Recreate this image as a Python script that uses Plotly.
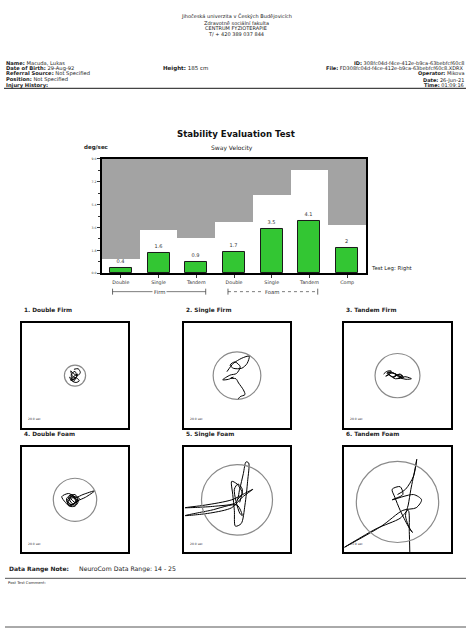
import plotly.graph_objects as go

# ---------------- data ----------------
categories = ["Double", "Single", "Tandem", "Double", "Single", "Tandem", "Comp"]
sway_velocity = [0.4, 1.6, 0.9, 1.7, 3.5, 4.1, 2]
bar_labels = ["0.4", "1.6", "0.9", "1.7", "3.5", "4.1", "2"]
normal_limit = [1.1, 3.4, 2.8, 4.0, 6.2, 8.1, 3.8]
y_ticks = [0, 1.8, 3.6, 5.4, 7.2, 9.0]
y_tick_labels = ["0.0", "1.8", "3.6", "5.4", "7.2", "9.0"]

panel_titles = ["1. Double Firm", "2. Single Firm", "3. Tandem Firm",
                "4. Double Foam", "5. Single Foam", "6. Tandem Foam"]
panel_times = ["20.0 sec", "20.0 sec", "20.0 sec", "20.0 sec", "20.0 sec", "13.9 sec"]
circle_radius = [0.20, 0.45, 0.42, 0.41, 0.67, 0.77]
circle_cy = [0.0, 0.0, 0.0, 0.0, 0.0, -0.04]

trace1_x = [-0.02, 0.06, 0.10, 0.05, -0.03, -0.08, -0.04, 0.04, 0.08, 0.02, -0.06, -0.10, -0.05, 0.03, 0.0, -0.07, -0.03, 0.05, -0.05, -0.08, 0.0]
trace1_y = [0.12, 0.13, 0.06, 0.0, 0.04, 0.09, -0.02, -0.05, -0.10, -0.13, -0.10, -0.03, -0.07, -0.02, 0.08, 0.02, -0.11, 0.03, -0.04, -0.09, -0.06]

trace2_x = [-0.19, -0.07, 0.09, 0.23, 0.19, 0.09, -0.07, -0.13, -0.04, 0.06, -0.01, -0.13, -0.27, -0.16, -0.07, -0.12, -0.02, 0.03, 0.12, 0.15, 0.06, 0.01]
trace2_y = [0.075, 0.23, 0.33, 0.37, 0.23, 0.14, 0.14, 0.20, 0.26, 0.17, 0.04, 0.01, -0.08, -0.07, -0.03, -0.05, -0.06, -0.14, -0.27, -0.36, -0.40, -0.46]

trace3_x = [-0.26, -0.20, -0.12, -0.16, -0.22, -0.10, -0.02, -0.08, 0.04, 0.10, 0.02, 0.14, 0.22, 0.26, 0.16, 0.06, -0.04, -0.14, -0.20, -0.12, 0.0, 0.08, -0.06, -0.18, -0.10, 0.04, 0.12, 0.0]
trace3_y = [0.03, 0.08, 0.09, 0.02, -0.01, 0.05, 0.02, -0.04, 0.03, -0.01, -0.05, -0.02, -0.04, -0.06, -0.07, -0.05, -0.06, 0.0, 0.05, 0.07, 0.0, -0.03, 0.04, 0.06, -0.02, 0.02, -0.04, -0.02]

trace4_x = [-0.10, 0.0, 0.05, -0.02, -0.12, -0.15, -0.05, 0.02, -0.08, -0.14, -0.04, 0.04, 0.0, -0.12, -0.06, 0.03, 0.15, 0.37, 0.20, 0.05, -0.10, -0.18, -0.25, -0.12, -0.02, 0.06, 0.0, -0.10, -0.16, -0.06, 0.02, -0.04, -0.12, 0.08, 0.02, -0.08]
trace4_y = [0.08, 0.10, 0.02, -0.08, -0.10, 0.0, 0.06, -0.04, -0.09, -0.03, 0.04, 0.0, -0.10, -0.06, 0.08, 0.05, 0.10, 0.17, 0.05, -0.02, -0.12, -0.05, 0.06, 0.12, 0.06, -0.03, -0.12, -0.12, 0.02, 0.10, -0.02, -0.08, 0.05, 0.03, -0.06, 0.02]

trace5_x = [0.0, 0.10, 0.0, -0.10, -0.08, -0.05, -0.03, 0.08, 0.15, 0.20, 0.22, 0.17, 0.12, 0.05, -0.02, -0.40, -0.98, -0.60, -0.10, 0.20, 0.30, 0.10, -0.10, -0.50, -0.98, -0.50, 0.0, 0.10, 0.05, -0.05, 0.02, 0.10, 0.05]
trace5_y = [0.0, 0.12, 0.30, 0.35, 0.10, -0.20, -0.50, -0.45, -0.10, 0.35, 0.70, 0.72, 0.50, 0.20, -0.05, -0.12, -0.15, -0.10, 0.0, 0.15, 0.20, 0.05, -0.15, -0.25, -0.30, -0.20, -0.10, -0.30, -0.25, 0.20, 0.30, 0.20, -0.05]

trace6_x = [0.0, 0.15, 0.30, 0.36, 0.33, 0.25, 0.20, 0.15, 0.23, 0.28, 0.20, 0.05, -0.05, -0.10, 0.05, 0.10, -0.10, 0.30, 0.45, 0.35, 0.10, -0.30, -0.99, -0.40, 0.05, 0.20, 0.22, 0.23]
trace6_y = [0.10, 0.20, 0.45, 0.77, 0.60, 0.20, -0.10, -0.30, -0.55, -0.62, -0.50, -0.20, 0.05, 0.20, 0.25, 0.10, 0.0, 0.10, 0.0, -0.15, -0.20, -0.50, -0.90, -0.55, -0.35, -0.20, -0.60, -0.99]

traces_x = [trace1_x, trace2_x, trace3_x, trace4_x, trace5_x, trace6_x]
traces_y = [trace1_y, trace2_y, trace3_y, trace4_y, trace5_y, trace6_y]

# ---------------- helpers ----------------
W, H = 468, 631
FONT = "DejaVu Sans"


def px(x):
    return x / W


def py(y):
    return 1 - y / H


fig = go.Figure()
xs = list(range(len(categories)))

# grey area above the normal limit
fig.add_trace(go.Bar(x=xs, y=[9 - v for v in normal_limit], base=normal_limit, width=1,
                     marker=dict(color="#a3a3a3", line=dict(width=0)), hoverinfo="skip",
                     showlegend=False))
# green bars
fig.add_trace(go.Bar(x=xs, y=sway_velocity, width=0.58, text=bar_labels,
                     textposition="outside", constraintext="none", cliponaxis=False,
                     textfont=dict(size=5, color="#333", family=FONT),
                     marker=dict(color="#33c633", line=dict(color="#1a1a1a", width=1)),
                     showlegend=False))

annotations = []
shapes = []


def note(x, y, text, size, anchor="left", color="#222", **kw):
    annotations.append(dict(x=px(x), y=py(y), xref="paper", yref="paper", text=text,
                            showarrow=False, xanchor=anchor, yanchor="middle",
                            font=dict(size=size, color=color), **kw))


layout = dict(
    width=W, height=H, autosize=False,
    margin=dict(l=0, r=0, t=0, b=0),
    paper_bgcolor="white", plot_bgcolor="white",
    barmode="overlay", bargap=0,
    font=dict(family=FONT, color="#222"),
    xaxis=dict(domain=[px(102), px(366)], range=[-0.5, 6.5], tickvals=xs, ticktext=categories,
               ticks="outside", ticklen=3, tickcolor="#333",
               tickfont=dict(size=4.8, color="#333"), showline=True, mirror=True,
               linecolor="black", linewidth=1.6, showgrid=False, zeroline=False, fixedrange=True),
    yaxis=dict(domain=[py(273), py(158)], range=[0, 9], tickvals=y_ticks, ticktext=y_tick_labels,
               ticks="outside", ticklen=3, tickcolor="#333", tickfont=dict(size=3.2, color="#444"),
               minor=dict(dtick=0.9, ticks="outside", ticklen=2, tickcolor="#333"),
               showline=True, mirror=True, linecolor="black", linewidth=1.6,
               showgrid=False, zeroline=False, fixedrange=True),
)

# sway panels
panel_x = [(22, 128), (184, 290), (344, 451)]
panel_y = [(323, 429), (448, 554)]
for i in range(6):
    r, c = divmod(i, 3)
    n = i + 2
    x0, x1 = panel_x[c]
    y0, y1 = panel_y[r]
    ax = dict(range=[-1, 1], showticklabels=False, ticks="", showgrid=False, zeroline=False,
              showline=True, mirror=True, linecolor="black", linewidth=2, fixedrange=True)
    layout[f"xaxis{n}"] = dict(ax, domain=[px(x0), px(x1)], anchor=f"y{n}")
    layout[f"yaxis{n}"] = dict(ax, domain=[py(y1), py(y0)], anchor=f"x{n}")
    fig.add_trace(go.Scatter(x=traces_x[i], y=traces_y[i], mode="lines",
                             line=dict(color="black", width=1, shape="spline", smoothing=0.8),
                             xaxis=f"x{n}", yaxis=f"y{n}", showlegend=False, hoverinfo="skip"))
    rad = circle_radius[i]
    shapes.append(dict(type="circle", xref=f"x{n}", yref=f"y{n}", x0=-rad, x1=rad,
                       y0=circle_cy[i] - rad, y1=circle_cy[i] + rad,
                       line=dict(color="#8a8a8a", width=1.2)))
    note(x0, y0 - 13, f"<b>{panel_titles[i]}</b>", 5.8)
    annotations.append(dict(x=-0.93, y=-0.83, xref=f"x{n}", yref=f"y{n}", text=panel_times[i],
                            showarrow=False, xanchor="left", yanchor="middle",
                            font=dict(size=3, color="#333")))

# header
header_lines = ["Jihočeská univerzita v Českých Budějovicích", "Zdravotně sociální fakulta",
                "CENTRUM FYZIOTERAPIE", "T/ + 420 389 037 844"]
for t, yy in zip(header_lines, [15, 20.7, 26.5, 32.3]):
    note(236, yy, t, 5, anchor="center")

left_lines = ["<b>Name:</b> Macuda, Lukas", "<b>Date of Birth:</b> 29-Aug-92",
              "<b>Referral Source:</b> Not Specified", "<b>Position:</b> Not Specified",
              "<b>Injury History:</b>"]
right_lines = ["<b>ID:</b> 308fc04d-f4ce-412e-b9ca-63bebfcf60c8",
               "<b>File:</b> FD308fc04d-f4ce-412e-b9ca-63bebfcf60c8.XDRX",
               "<b>Operator:</b> Mikova", "<b>Date:</b> 26-Jun-21", "<b>Time:</b> 01:09:16"]
line_ys = [61, 66.7, 72.3, 78, 83.7]
for t, yy in zip(left_lines, line_ys):
    note(4, yy, t, 5.2)
for t, yy in zip(right_lines, line_ys):
    note(466, yy, t, 5, anchor="right")
note(161, 66.7, "<b>Height:</b> 185 cm", 5.5)
shapes.append(dict(type="line", xref="paper", yref="paper", x0=px(4), x1=px(466),
                   y0=py(87), y1=py(87), line=dict(color="#444", width=1.2)))

# chart titles
note(236, 132.5, "<b>Stability Evaluation Test</b>", 8.6, anchor="center", color="#111")
note(82, 146.5, "<b>deg/sec</b>", 5.5)
note(232, 146.5, "Sway Velocity", 6, anchor="center")
note(369, 268, "Test Leg: Right", 5.4)

# Firm / Foam brackets
for (a, b, label, dash) in [(-0.22, 2.25, "Firm", "solid"), (2.84, 5.22, "Foam", "dot")]:
    yb = py(291.5)
    shapes.append(dict(type="line", xref="x", yref="paper", x0=a, x1=b, y0=yb, y1=yb,
                       line=dict(color="#444", width=0.7, dash=dash)))
    for e in (a, b):
        shapes.append(dict(type="line", xref="x", yref="paper", x0=e, x1=e,
                           y0=py(288.5), y1=py(294.5), line=dict(color="#444", width=0.8)))
    annotations.append(dict(x=(a + b) / 2, y=yb, xref="x", yref="paper", text=label,
                            showarrow=False, bgcolor="white", yanchor="middle",
                            font=dict(size=5.3, color="#333"), borderpad=1))

# bottom notes
note(7, 571, "<b>Data Range Note:</b>", 6)
note(77, 571, "NeuroCom Data Range: 14 - 25", 6.2)
shapes.append(dict(type="line", xref="paper", yref="paper", x0=px(5), x1=px(466),
                   y0=py(580), y1=py(580), line=dict(color="#555", width=1)))
note(6, 584, "Post Test Comment:", 3.8)
shapes.append(dict(type="line", xref="paper", yref="paper", x0=px(5), x1=px(466),
                   y0=py(629), y1=py(629), line=dict(color="#555", width=1)))

layout["annotations"] = annotations
layout["shapes"] = shapes
fig.update_layout(**layout)
fig.write_html("out.html", config={"displayModeBar": False},
               post_script="document.body.style.margin='0px';")
